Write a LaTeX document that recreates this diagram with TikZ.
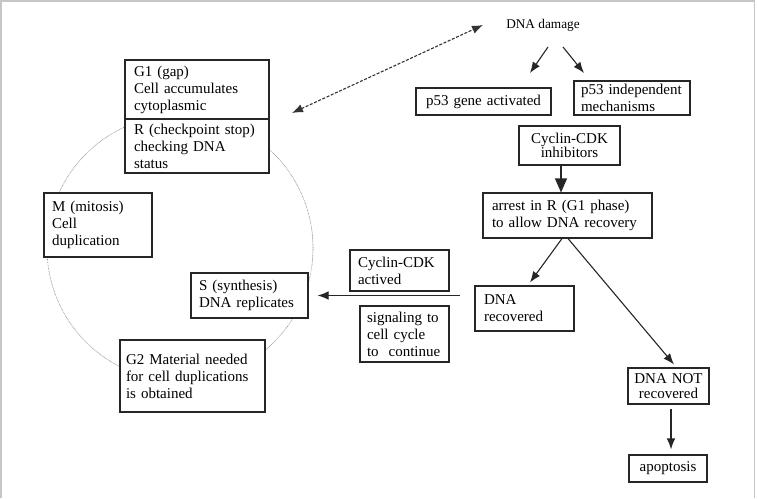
\documentclass[tikz,border=0pt]{standalone}
\usepackage{fontspec}
\setmainfont{Liberation Serif}
\usetikzlibrary{arrows.meta,calc}

\tikzset{
  boxtext/.style={font=\fontsize{15}{17}\selectfont},
  cellbox/.style={draw=black!85, line width=1.1pt, fill=white, boxtext,
    inner ysep=0pt, align=left},
  midbox/.style={cellbox, align=center},
  cyclepath/.style={draw=gray!85, line width=0.6pt, dash pattern=on 0.8pt off 0.7pt},
  arr/.style={draw=black!85, line width=1.1pt, -{Latex[length=11pt,width=8.5pt]}},
  bigarr/.style={draw=black!85, line width=1.1pt, -{Triangle[length=14pt,width=12pt]}},
  linkarr/.style={draw=black!80, line width=1.1pt, dash pattern=on 3pt off 1.6pt,
    {Latex[length=11pt,width=8.5pt]}-{Latex[length=11pt,width=8.5pt]}},
  frame/.style={draw=gray!45, line width=1.6pt}
}

\begin{document}
\begin{tikzpicture}[x=1pt,y=-1pt]
\useasboundingbox (0,0) rectangle (757,498);
\draw[frame] (1,498) -- (1,1) -- (754.5,1) -- (754.5,498);

% the cell cycle
\draw[cyclepath] (180,248) circle[radius=133pt];

\node[cellbox, text width=126pt, inner xsep=9pt, minimum height=59pt] (g1) at (197,89.5)
  {G1 (gap)\\Cell accumulates\\cytoplasmic};
\node[cellbox, text width=126pt, inner xsep=9pt, minimum height=54pt] (r) at (197,146)
  {R (checkpoint stop)\\checking DNA\\status};
\node[cellbox, text width=92pt, inner xsep=8pt, minimum height=64pt] (m) at (98,225)
  {M (mitosis)\\Cell\\duplication};
\node[cellbox, text width=101pt, inner xsep=8pt, minimum height=45pt] (s) at (249.5,295.5)
  {S (synthesis)\\DNA replicates};
\node[cellbox, text width=133pt, inner xsep=6pt, minimum height=72pt] (g2) at (192.5,376)
  {G2 Material needed\\for cell duplications\\is obtained};

% damage response
\node[font=\fontsize{13.3}{15}\selectfont] (dmg) at (543,25) {DNA damage};
\node[midbox, text width=119pt, inner xsep=8pt, minimum height=27pt] (p53a) at (483.5,101.5)
  {p53 gene activated};
\node[cellbox, text width=102pt, inner xsep=7pt, minimum height=34pt] (p53i) at (632,98)
  {p53 independent\\mechanisms};
\node[midbox, text width=89pt, inner xsep=6pt, minimum height=39pt,
  font=\fontsize{15}{14}\selectfont] (inh) at (569.5,145.5)
  {Cyclin-CDK\\inhibitors};
\node[cellbox, text width=151pt, inner xsep=9pt, minimum height=45pt] (arrest) at (567.5,215.5)
  {arrest in R (G1 phase)\\to allow DNA recovery};
\node[cellbox, text width=81pt, inner xsep=9pt, minimum height=45pt] (rec) at (524.5,308.5)
  {DNA\\recovered};
\node[midbox, text width=77pt, inner xsep=2pt, minimum height=36pt,
  font=\fontsize{15}{15}\selectfont] (notrec) at (668.5,386)
  {DNA NOT\\recovered};
\node[midbox, text width=70pt, inner xsep=4pt, minimum height=27pt] (apop) at (668,468.5)
  {apoptosis};
\node[cellbox, text width=83pt, inner xsep=8pt, minimum height=41pt] (act) at (399.5,270.5)
  {Cyclin-CDK\\actived};
\node[cellbox, text width=75pt, inner xsep=7pt, minimum height=56pt] (sig) at (404.5,334)
  {signaling to\\cell cycle\\to\ \ continue};

% connector end points
\coordinate (dmgL) at (548,47);
\coordinate (p53aT) at (530,73);
\coordinate (dmgR) at (563,47);
\coordinate (p53iT) at (584,73);
\coordinate (linkA) at (292,113);
\coordinate (linkB) at (483,25);

\draw[linkarr] (linkA) -- (linkB);
\draw[arr] (dmgL) -- (p53aT);
\draw[arr] (dmgR) -- (p53iT);
\draw[bigarr] ([xshift=-8.5pt]inh.south) -- ([xshift=-8.5pt]inh.south |- arrest.north);
\draw[arr] ([xshift=-5.5pt]arrest.south) -- ([xshift=5.5pt,yshift=3pt]rec.north);
\draw[arr] ([xshift=0.5pt]arrest.south) -- ([xshift=5.5pt,yshift=3pt]notrec.north);
\draw[arr, shorten <=4pt, shorten >=5pt] ([xshift=2.5pt]notrec.south) -- ([xshift=3pt]apop.north);
\draw[arr] ([xshift=-14pt]rec.west |- s.east) -- ([xshift=9pt]s.east);
\end{tikzpicture}
\end{document}
